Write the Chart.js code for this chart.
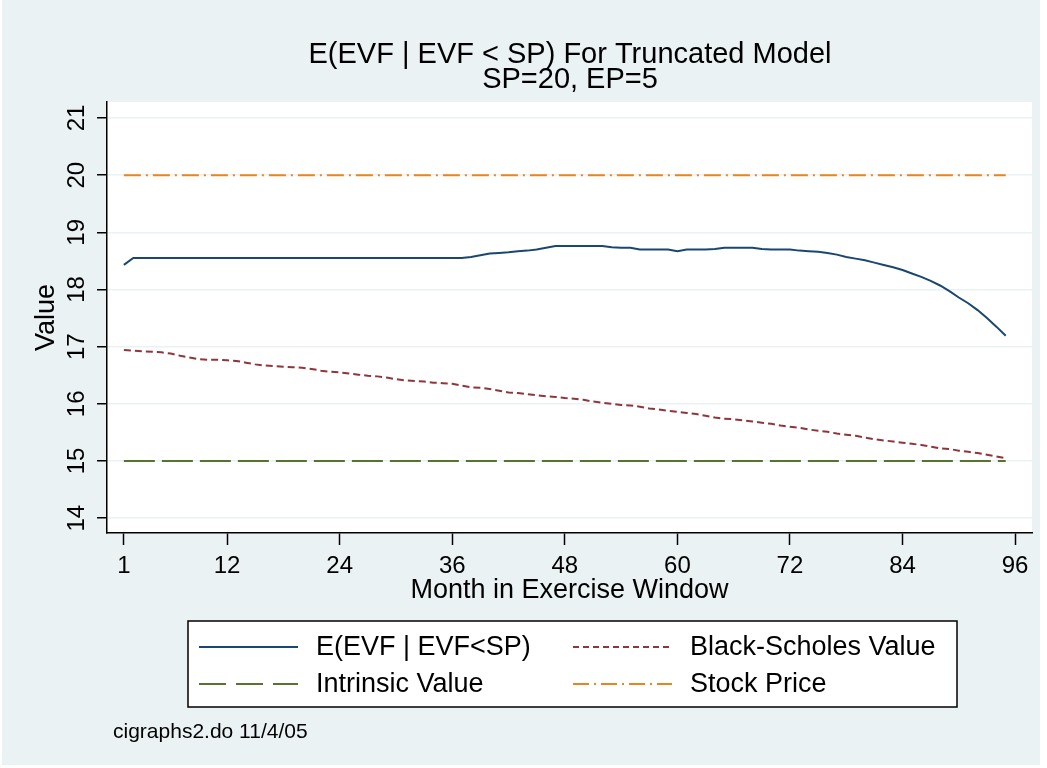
<!DOCTYPE html>
<html>
<head>
<meta charset="utf-8">
<script src="https://cdn.jsdelivr.net/npm/chart.js@4/dist/chart.umd.min.js"></script>
<style>
  html, body { margin: 0; padding: 0; background: #fff; }
  #wrap { width: 1047px; height: 768px; }
</style>
</head>
<body>
<div id="wrap"><canvas id="myChart" width="1047" height="768"></canvas></div>
<script>
// month in exercise window
var months = [1,2,3,4,5,6,7,8,9,10,11,12,13,14,15,16,17,18,19,20,21,22,23,24,25,26,27,28,29,30,
  31,32,33,34,35,36,37,38,39,40,41,42,43,44,45,46,47,48,49,50,51,52,53,54,55,56,57,58,59,60,
  61,62,63,64,65,66,67,68,69,70,71,72,73,74,75,76,77,78,79,80,81,82,83,84,85,86,87,88,89,90,
  91,92,93,94,95];

var evfValues = [18.43,18.55,18.55,18.55,18.55,18.55,18.55,18.55,18.55,18.55,18.55,18.55,18.55,18.55,18.55,
  18.55,18.55,18.55,18.55,18.55,18.55,18.55,18.55,18.55,18.55,18.55,18.55,18.55,18.55,18.55,
  18.55,18.55,18.55,18.55,18.55,18.55,18.55,18.57,18.60,18.63,18.64,18.65,18.67,18.68,18.70,
  18.73,18.76,18.76,18.76,18.76,18.76,18.76,18.74,18.73,18.73,18.70,18.70,18.70,18.70,18.67,
  18.70,18.70,18.70,18.71,18.73,18.73,18.73,18.73,18.71,18.70,18.70,18.70,18.68,18.67,18.66,
  18.64,18.61,18.57,18.54,18.51,18.47,18.43,18.39,18.34,18.28,18.22,18.15,18.07,17.97,17.86,
  17.76,17.64,17.50,17.35,17.19];

var bsValues = [16.94,16.93,16.92,16.91,16.90,16.88,16.84,16.81,16.78,16.77,16.77,16.76,16.75,16.72,16.69,
  16.67,16.66,16.65,16.64,16.63,16.61,16.58,16.56,16.55,16.53,16.51,16.49,16.48,16.46,16.43,
  16.41,16.40,16.39,16.37,16.36,16.35,16.32,16.29,16.28,16.26,16.23,16.20,16.19,16.17,16.15,
  16.13,16.12,16.10,16.09,16.07,16.04,16.02,16.00,15.98,15.97,15.95,15.92,15.90,15.88,15.86,
  15.84,15.82,15.79,15.76,15.74,15.73,15.71,15.69,15.67,15.65,15.62,15.60,15.58,15.55,15.53,
  15.51,15.48,15.46,15.44,15.41,15.38,15.36,15.34,15.32,15.30,15.28,15.25,15.22,15.21,15.18,
  15.16,15.14,15.11,15.08,15.05];

var intrinsicValues = [15,15,15,15,15,15,15,15,15,15,15,15,15,15,15,15,15,15,15,15,15,15,15,15,15,
  15,15,15,15,15,15,15,15,15,15,15,15,15,15,15,15,15,15,15,15,15,15,15,15,15,
  15,15,15,15,15,15,15,15,15,15,15,15,15,15,15,15,15,15,15,15,15,15,15,15,15,
  15,15,15,15,15,15,15,15,15,15,15,15,15,15,15,15,15,15,15,15];

var stockValues = [20,20,20,20,20,20,20,20,20,20,20,20,20,20,20,20,20,20,20,20,20,20,20,20,20,
  20,20,20,20,20,20,20,20,20,20,20,20,20,20,20,20,20,20,20,20,20,20,20,20,20,
  20,20,20,20,20,20,20,20,20,20,20,20,20,20,20,20,20,20,20,20,20,20,20,20,20,
  20,20,20,20,20,20,20,20,20,20,20,20,20,20,20,20,20,20,20,20];

var xTicks = [1, 12, 24, 36, 48, 60, 72, 84, 96];
var yTicks = [14, 15, 16, 17, 18, 19, 20, 21];
var seriesNames = ["E(EVF | EVF<SP)", "Black-Scholes Value", "Intrinsic Value", "Stock Price"];
var titleLines = ["E(EVF | EVF < SP) For Truncated Model", "SP=20, EP=5"];
var noteText = "cigraphs2.do 11/4/05";

var FONT = '"Liberation Sans", Arial, sans-serif';
var BG = "#EAF2F3";

function pts(vals) {
  return vals.map(function (v, i) { return { x: months[i], y: v }; });
}

// background, rotated y labels, titles, legend and note
var stataLook = {
  id: "stataLook",
  beforeDraw: function (chart) {
    var ctx = chart.ctx, a = chart.chartArea;
    ctx.save();
    ctx.fillStyle = "#fff";
    ctx.fillRect(0, 0, chart.width, chart.height);
    ctx.fillStyle = BG;
    ctx.fillRect(2, 0, 1038, 765);
    ctx.fillStyle = "#fff";
    ctx.fillRect(a.left, a.top, a.right - a.left, a.bottom - a.top);
    ctx.restore();
  },
  afterDraw: function (chart) {
    var ctx = chart.ctx;
    var xs = chart.scales.x, ys = chart.scales.y;
    ctx.save();
    ctx.fillStyle = "#000";

    // titles
    ctx.textAlign = "center";
    ctx.textBaseline = "middle";
    ctx.font = "29px " + FONT;
    ctx.fillText(titleLines[0], 570, 55);
    ctx.fillText(titleLines[1], 570, 80);

    // x tick labels and title
    ctx.font = "24px " + FONT;
    xTicks.forEach(function (t) {
      ctx.fillText(String(t), xs.getPixelForValue(t), 566);
    });
    ctx.font = "27px " + FONT;
    ctx.fillText("Month in Exercise Window", (xs.left + xs.right) / 2, 591);

    // y tick labels (rotated) and title
    ctx.font = "24px " + FONT;
    yTicks.forEach(function (t) {
      ctx.save();
      ctx.translate(77, ys.getPixelForValue(t));
      ctx.rotate(-Math.PI / 2);
      ctx.fillText(String(t), 0, 0);
      ctx.restore();
    });
    ctx.save();
    ctx.font = "27px " + FONT;
    ctx.translate(47, (chart.chartArea.top + chart.chartArea.bottom) / 2);
    ctx.rotate(-Math.PI / 2);
    ctx.fillText("Value", 0, 0);
    ctx.restore();

    // legend box
    ctx.fillStyle = "#fff";
    ctx.fillRect(188, 621, 769, 86);
    ctx.strokeStyle = "#000";
    ctx.lineWidth = 1.5;
    ctx.strokeRect(188, 621, 769, 86);

    var ds = chart.data.datasets;
    var slots = [
      { d: 0, lx: 199, tx: 316, y: 647 },
      { d: 1, lx: 573, tx: 690, y: 647 },
      { d: 2, lx: 199, tx: 316, y: 684 },
      { d: 3, lx: 573, tx: 690, y: 684 }
    ];
    var legendDash = [[], [6, 4], [27, 10], [16, 5, 2, 5]];
    ctx.font = "27px " + FONT;
    ctx.textAlign = "left";
    slots.forEach(function (s) {
      ctx.beginPath();
      ctx.setLineDash(legendDash[s.d]);
      ctx.strokeStyle = ds[s.d].borderColor;
      ctx.lineWidth = 2;
      ctx.moveTo(s.lx, s.y);
      ctx.lineTo(s.lx + 99, s.y);
      ctx.stroke();
      ctx.setLineDash([]);
      ctx.fillStyle = "#000";
      ctx.fillText(seriesNames[s.d], s.tx, s.y + 1);
    });

    // note
    ctx.font = "21px " + FONT;
    ctx.fillText(noteText, 113, 732);
    ctx.restore();
  }
};

new Chart("myChart", {
  type: "line",
  data: {
    datasets: [
      { label: seriesNames[0], data: pts(evfValues), borderColor: "#1A476F", borderWidth: 2, pointRadius: 0, tension: 0 },
      { label: seriesNames[1], data: pts(bsValues), borderColor: "#90353B", borderWidth: 2, borderDash: [7, 4], pointRadius: 0, tension: 0 },
      { label: seriesNames[2], data: pts(intrinsicValues), borderColor: "#55752F", borderWidth: 2, borderDash: [31, 7], pointRadius: 0, tension: 0 },
      { label: seriesNames[3], data: pts(stockValues), borderColor: "#E8851E", borderWidth: 2, borderDash: [17, 5, 2, 5], pointRadius: 0, tension: 0 }
    ]
  },
  options: {
    responsive: false,
    animation: false,
    events: [],
    layout: { padding: { left: 107, right: 15, top: 102, bottom: 235 } },
    plugins: {
      legend: { display: false },
      title: { display: false },
      tooltip: { enabled: false }
    },
    scales: {
      x: {
        type: "linear",
        min: -0.8,
        max: 97.8,
        afterBuildTicks: function (s) { s.ticks = xTicks.map(function (v) { return { value: v }; }); },
        afterFit: function (s) { s.height = 0; },
        ticks: { display: false },
        grid: { drawOnChartArea: false, drawTicks: true, tickLength: 12, tickColor: "#000", tickWidth: 1.5 },
        border: { display: true, color: "#000", width: 1.5 }
      },
      y: {
        type: "linear",
        min: 13.74,
        max: 21.28,
        afterBuildTicks: function (s) { s.ticks = yTicks.map(function (v) { return { value: v }; }); },
        afterFit: function (s) { s.width = 0; },
        ticks: { display: false },
        grid: { color: BG, lineWidth: 1.5, drawTicks: true, tickLength: 10, tickColor: "#000", tickWidth: 1.5 },
        border: { display: true, color: "#000", width: 1.5 }
      }
    }
  },
  plugins: [stataLook]
});
</script>
</body>
</html>
